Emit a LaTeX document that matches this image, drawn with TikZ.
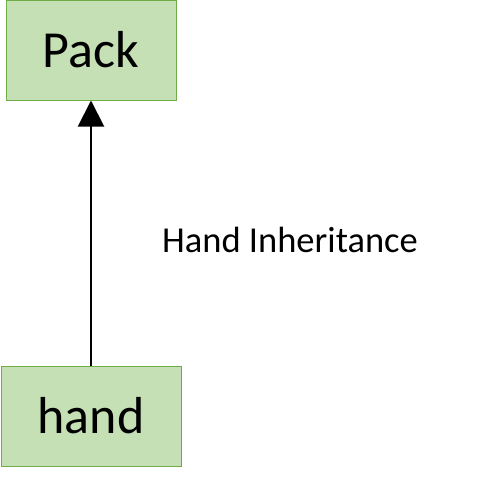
\documentclass[tikz,border=0pt]{standalone}
\usepackage{fontspec}
\setmainfont{Carlito}
\usetikzlibrary{arrows.meta}
\definecolor{boxfill}{HTML}{C5E0B4}
\definecolor{boxline}{HTML}{70AD47}
\tikzset{
  classbox/.style={draw=boxline, fill=boxfill, line width=1pt, inner sep=0pt, font=\fontsize{52}{60}\selectfont},
  inherit/.style={line width=2pt, -{Triangle[length=26pt,width=26pt]}}
}
\begin{document}
\begin{tikzpicture}[x=1pt,y=-1pt]
\useasboundingbox (0,0) rectangle (482,482);
\node[classbox, minimum width=170pt, minimum height=100pt] (pack) at (91,50) {Pack};
\node[classbox, minimum width=180pt, minimum height=100pt] (hand) at (91,416) {hand};
\draw[inherit] (hand.north) -- (pack.south);
\node[font=\fontsize{36.5}{42}\selectfont, anchor=base] (lbl) at (290,252) {Hand Inheritance};
\end{tikzpicture}
\end{document}
